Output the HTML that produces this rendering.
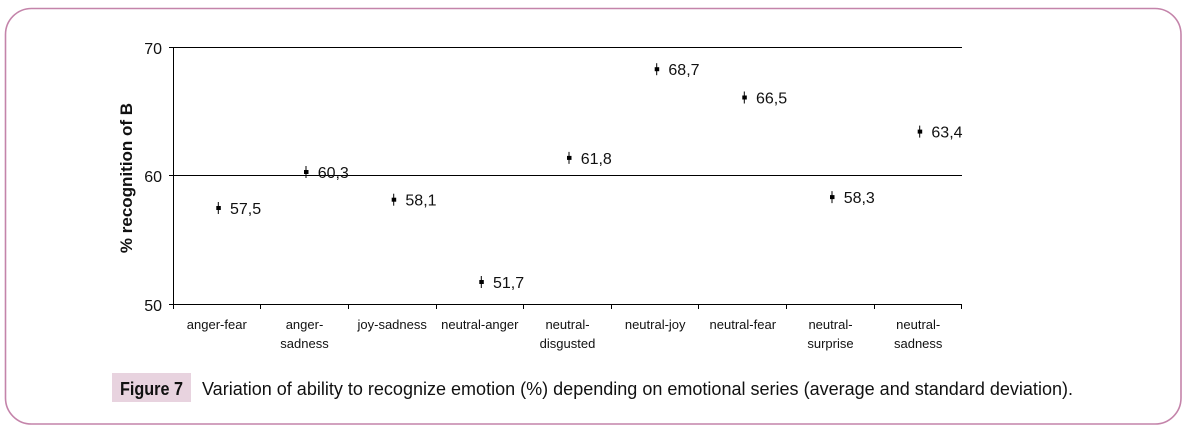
<!DOCTYPE html>
<html><head><meta charset="utf-8"><style>
html,body{margin:0;padding:0;background:#fff;}
svg{display:block;}
</style></head><body>
<svg width="1189" height="430" viewBox="0 0 1189 430" xmlns="http://www.w3.org/2000/svg">
<rect x="0" y="0" width="1189" height="430" fill="#fff"/>
<rect x="5.5" y="8.5" width="1175.5" height="415.5" rx="26" ry="26" fill="none" stroke="#c484aa" stroke-width="1.6"/>
<g stroke="#000" stroke-width="1" fill="none" shape-rendering="crispEdges">
<line x1="169" y1="47.5" x2="962" y2="47.5"/>
<line x1="169" y1="175.5" x2="962" y2="175.5"/>
<line x1="169" y1="304.5" x2="962" y2="304.5"/>
<line x1="173.5" y1="47.5" x2="173.5" y2="309"/>
<line x1="260.5" y1="304.5" x2="260.5" y2="309"/>
<line x1="348.5" y1="304.5" x2="348.5" y2="309"/>
<line x1="436.5" y1="304.5" x2="436.5" y2="309"/>
<line x1="523.5" y1="304.5" x2="523.5" y2="309"/>
<line x1="611.5" y1="304.5" x2="611.5" y2="309"/>
<line x1="698.5" y1="304.5" x2="698.5" y2="309"/>
<line x1="786.5" y1="304.5" x2="786.5" y2="309"/>
<line x1="874.5" y1="304.5" x2="874.5" y2="309"/>
<line x1="961.5" y1="304.5" x2="961.5" y2="309"/>
</g>
<g font-family="Liberation Sans, Arial, sans-serif" font-size="16" fill="#111" text-anchor="end">
<text x="162" y="54">70</text>
<text x="162" y="182">60</text>
<text x="162" y="311">50</text>
</g>
<text transform="translate(132,178) rotate(-90)" text-anchor="middle" font-family="Liberation Sans, Arial, sans-serif" font-weight="bold" font-size="17" fill="#111">% recognition of B</text>
<g font-family="Liberation Sans, Arial, sans-serif" font-size="13" fill="#111" text-anchor="middle">
<text x="216.8" y="329">anger-fear</text>
<text x="304.5" y="329">anger-</text><text x="304.5" y="348">sadness</text>
<text x="392.2" y="329">joy-sadness</text>
<text x="479.8" y="329">neutral-anger</text>
<text x="567.5" y="329">neutral-</text><text x="567.5" y="348">disgusted</text>
<text x="655.2" y="329">neutral-joy</text>
<text x="742.8" y="329">neutral-fear</text>
<text x="830.5" y="329">neutral-</text><text x="830.5" y="348">surprise</text>
<text x="918.2" y="329">neutral-</text><text x="918.2" y="348">sadness</text>
</g>
<g fill="#000" stroke="#000">
<!-- markers -->
<g stroke-width="1">
<line x1="218.3" y1="202" x2="218.3" y2="214"/>
<line x1="306" y1="166" x2="306" y2="178"/>
<line x1="393.7" y1="193.7" x2="393.7" y2="205.7"/>
<line x1="481.3" y1="276" x2="481.3" y2="288"/>
<line x1="569" y1="151.9" x2="569" y2="163.9"/>
<line x1="656.7" y1="63.2" x2="656.7" y2="75.2"/>
<line x1="744.3" y1="91.5" x2="744.3" y2="103.5"/>
<line x1="832" y1="191.1" x2="832" y2="203.1"/>
<line x1="919.7" y1="125.6" x2="919.7" y2="137.6"/>
</g>
<g stroke="none">
<rect x="216.3" y="206" width="4.5" height="4"/>
<rect x="304" y="170" width="4.5" height="4"/>
<rect x="391.7" y="197.7" width="4.5" height="4"/>
<rect x="479.3" y="280" width="4.5" height="4"/>
<rect x="567" y="155.9" width="4.5" height="4"/>
<rect x="654.7" y="67.2" width="4.5" height="4"/>
<rect x="742.3" y="95.5" width="4.5" height="4"/>
<rect x="830" y="195.1" width="4.5" height="4"/>
<rect x="917.7" y="129.6" width="4.5" height="4"/>
</g>
</g>
<g font-family="Liberation Sans, Arial, sans-serif" font-size="16" fill="#111">
<text x="230" y="214">57,5</text>
<text x="317.7" y="178">60,3</text>
<text x="405.4" y="205.7">58,1</text>
<text x="493" y="288">51,7</text>
<text x="580.7" y="163.9">61,8</text>
<text x="668.4" y="75.2">68,7</text>
<text x="756" y="103.5">66,5</text>
<text x="843.7" y="203.1">58,3</text>
<text x="931.4" y="137.6">63,4</text>
</g>
<rect x="112" y="373" width="79" height="29" fill="#e8d3df"/>
<text x="120" y="395" font-family="Liberation Sans, Arial, sans-serif" font-weight="bold" font-size="18" fill="#111" textLength="63" lengthAdjust="spacingAndGlyphs">Figure 7</text>
<text x="202" y="395" font-family="Liberation Sans, Arial, sans-serif" font-size="18" fill="#111" textLength="871" lengthAdjust="spacingAndGlyphs">Variation of ability to recognize emotion (%) depending on emotional series (average and standard deviation).</text>
</svg>
</body></html>
